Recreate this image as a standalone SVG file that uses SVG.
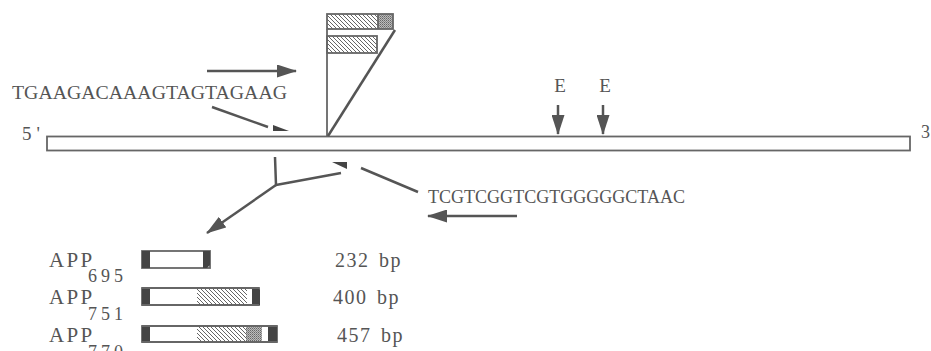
<svg xmlns="http://www.w3.org/2000/svg" width="931" height="351" viewBox="0 0 931 351">
<style>
text { font-family: "Liberation Serif", "Times New Roman", serif; fill: #555; }
.seq { font-size: 19px; }
.app { font-size: 21px; letter-spacing: 2.3px; }
.sub { font-size: 18px; letter-spacing: 4px; }
.bp { font-size: 20px; letter-spacing: 1.5px; word-spacing: 3px; }
.ln { stroke: #555; stroke-width: 2.5; fill: none; }
.thin { stroke: #666; stroke-width: 1.8; fill: none; }
.box { stroke: #666; stroke-width: 1.8; fill: #fff; }
.dark { fill: #444; }
</style>
<defs>
<marker id="ah" viewBox="0 0 20 13" refX="19" refY="6.5" markerWidth="20" markerHeight="13" orient="auto" markerUnits="userSpaceOnUse">
<path d="M0,0 L20,6.5 L0,13 z" fill="#555"/>
</marker>
<pattern id="hatch" width="4" height="4" patternUnits="userSpaceOnUse">
<rect width="4" height="4" fill="#fff"/>
<path d="M-1,-1 L5,5 M-1,3 L1,5 M3,-1 L5,1" stroke="#666" stroke-width="1"/>
</pattern>
<pattern id="stip" width="2" height="2" patternUnits="userSpaceOnUse">
<rect width="2" height="2" fill="#bbb"/>
<rect width="1" height="1" fill="#666"/>
<rect x="1" y="1" width="1" height="1" fill="#888"/>
</pattern>
</defs>

<g id="gene">
<rect class="box" x="47" y="136.5" width="863" height="14"/>
<text x="22" y="140" font-size="19" letter-spacing="5">5'</text>
<text x="921" y="138" font-size="18">3</text>
</g>

<g id="insert">
<rect x="327" y="14" width="51" height="15" fill="url(#hatch)"/>
<rect x="378" y="14" width="15" height="15" fill="url(#stip)"/>
<rect class="thin" x="327" y="14" width="66" height="15"/>
<line class="thin" x1="378" y1="14" x2="378" y2="29"/>
<rect x="327" y="36" width="50" height="17" fill="url(#hatch)" stroke="#666" stroke-width="1.8"/>
<line class="thin" x1="327" y1="29" x2="327" y2="136"/>
<line class="ln" x1="395" y1="30" x2="328" y2="136"/>
</g>

<g id="primer-fwd">
<text class="seq" x="12" y="99" textLength="275" lengthAdjust="spacingAndGlyphs">TGAAGACAAAGTAGTAGAAG</text>
<polygon class="dark" points="273,125 289,131 273,131"/>
</g>

<g id="primer-rev">
<text class="seq" x="428" y="203" textLength="257" lengthAdjust="spacingAndGlyphs">TCGTCGGTCGTGGGGGCTAAC</text>
<polygon class="dark" points="332,162 347,162 347,169"/>
</g>

<g id="ecoRI">
<text x="560" y="92" font-size="19" text-anchor="middle">E</text>
<text x="605" y="92" font-size="19" text-anchor="middle">E</text>
</g>

<g id="app695">
<text class="app" x="49" y="267">APP</text>
<text class="sub" x="88" y="282">695</text>
<rect class="box" x="142" y="251" width="68" height="17"/>
<rect class="dark" x="142" y="251" width="8" height="17"/>
<polygon class="dark" points="203,251 210,251 210,265 207,268 203,268"/>
<text class="bp" x="335" y="267">232 bp</text>
</g>

<g id="app751">
<text class="app" x="49" y="304">APP</text>
<text class="sub" x="88" y="320">751</text>
<rect class="box" x="142" y="288" width="117" height="17"/>
<rect x="197" y="288" width="50" height="17" fill="url(#hatch)"/>
<rect class="dark" x="142" y="288" width="8" height="17"/>
<polygon class="dark" points="252,288 258,288 260,290 260,305 252,305"/>
<line class="thin" x1="142" y1="288" x2="259" y2="288"/>
<line class="thin" x1="142" y1="305" x2="259" y2="305"/>
<text class="bp" x="333" y="304">400 bp</text>
</g>

<g id="app770">
<text class="app" x="49" y="342">APP</text>
<text class="sub" x="88" y="358">770</text>
<rect class="box" x="142" y="326" width="135" height="16"/>
<rect x="197" y="326" width="49" height="16" fill="url(#hatch)"/>
<rect x="246" y="326" width="16" height="16" fill="url(#stip)"/>
<rect class="dark" x="142" y="326" width="8" height="16"/>
<rect class="dark" x="268" y="326" width="9" height="16"/>
<line class="thin" x1="142" y1="326" x2="277" y2="326"/>
<line class="thin" x1="142" y1="342" x2="277" y2="342"/>
<text class="bp" x="337" y="342">457 bp</text>
</g>

<g id="connectors">
<line class="ln" x1="207" y1="71" x2="296" y2="71" marker-end="url(#ah)"/>
<line class="ln" x1="212" y1="107" x2="268" y2="127"/>
<line class="ln" x1="361" y1="168" x2="418" y2="192"/>
<line class="ln" x1="517" y1="216" x2="428" y2="216" marker-end="url(#ah)"/>
<line class="ln" x1="558" y1="105" x2="558" y2="134" marker-end="url(#ah)"/>
<line class="ln" x1="603" y1="105" x2="603" y2="134" marker-end="url(#ah)"/>
<polyline class="ln" points="275,157 276,185 341,173"/>
<line class="ln" x1="276" y1="185" x2="207" y2="233" marker-end="url(#ah)"/>
</g>
</svg>
